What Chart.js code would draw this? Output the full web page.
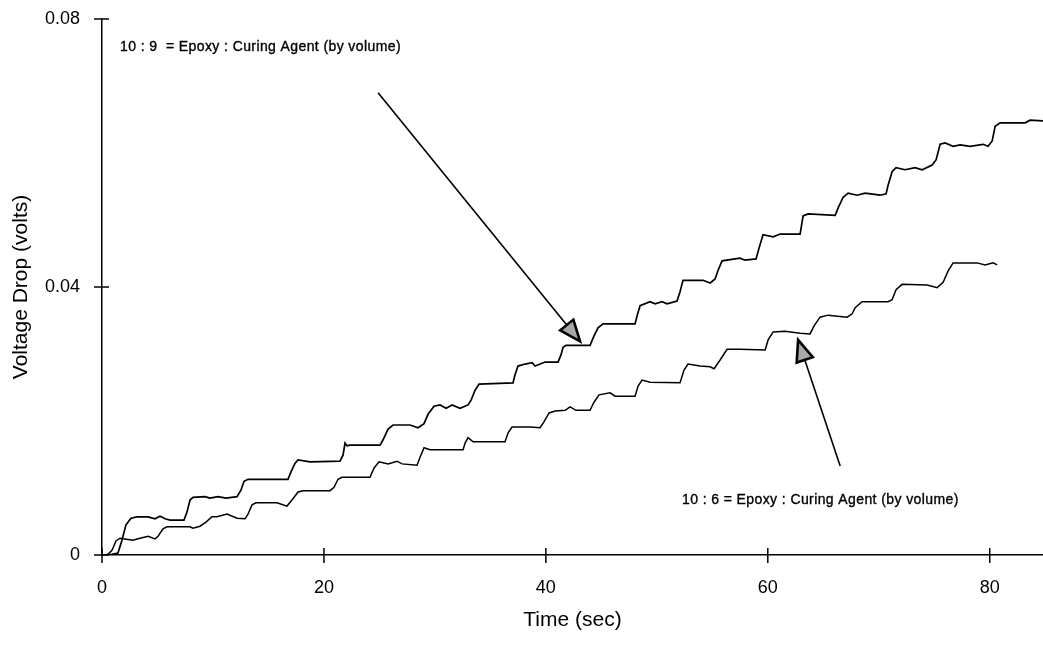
<!DOCTYPE html>
<html>
<head>
<meta charset="utf-8">
<script src="https://cdn.jsdelivr.net/npm/chart.js@4.4.1/dist/chart.umd.min.js"></script>
<style>
  html, body { margin: 0; padding: 0; background: #fff; }
  #wrap { width: 1043px; height: 650px; position: relative; }
</style>
</head>
<body>
<div id="wrap"><canvas id="c"></canvas></div>
<script>
// ---- Data ----
const timeUpper = [0,0.54,1.44,1.80,2.16,2.61,3.15,4.15,4.78,5.23,5.68,6.13,7.39,7.66,7.93,8.20,9.28,9.73,10.46,11.18,12.17,12.53,12.80,13.16,16.76,17.03,17.40,17.67,18.75,21.45,21.72,21.90,22.08,22.35,25.06,25.33,25.78,26.23,27.76,28.48,29.02,29.38,29.92,30.46,31.01,31.55,32.27,32.99,33.26,33.62,33.98,37.04,37.22,37.49,38.13,38.76,39.03,39.93,41.10,41.37,41.55,41.82,43.98,44.34,44.70,45.15,48.04,48.22,48.49,49.39,49.84,50.47,50.92,51.82,52.09,52.36,54.17,54.80,55.25,55.52,55.88,57.05,57.50,57.95,58.94,59.21,59.57,60.48,61.11,62.91,63.18,63.63,66.07,66.34,66.79,67.24,68.05,68.77,70.12,70.66,70.84,71.20,71.56,72.37,73.27,73.91,74.81,75.17,75.53,75.98,76.70,77.33,78.23,79.40,79.85,80.22,80.49,80.94,83.19,83.64,84.81];
const voltUpper = [0,0,0.0003,0.0022,0.0045,0.0055,0.0057,0.0057,0.0054,0.0058,0.0054,0.0052,0.0052,0.0064,0.0082,0.0086,0.0087,0.0085,0.0087,0.0085,0.0087,0.0097,0.0110,0.0113,0.0113,0.0124,0.0137,0.0142,0.0139,0.0140,0.0149,0.0167,0.0163,0.0164,0.0164,0.0172,0.0188,0.0194,0.0194,0.0190,0.0196,0.0210,0.0222,0.0224,0.0219,0.0224,0.0219,0.0224,0.0231,0.0246,0.0255,0.0257,0.0269,0.0282,0.0285,0.0287,0.0282,0.0288,0.0288,0.0299,0.0310,0.0313,0.0313,0.0327,0.0339,0.0345,0.0345,0.0357,0.0372,0.0378,0.0375,0.0378,0.0375,0.0379,0.0393,0.0410,0.0410,0.0406,0.0412,0.0425,0.0439,0.0442,0.0443,0.0440,0.0442,0.0458,0.0478,0.0475,0.0479,0.0479,0.0506,0.0509,0.0507,0.0518,0.0534,0.0540,0.0537,0.0540,0.0537,0.0539,0.0552,0.0572,0.0578,0.0575,0.0578,0.0575,0.0582,0.0590,0.0613,0.0615,0.0610,0.0612,0.0610,0.0613,0.0610,0.0618,0.0640,0.0645,0.0645,0.0649,0.0648];

const timeLower = [0.18,0.54,0.90,1.26,1.62,2.79,3.42,4.15,4.78,5.05,5.50,5.86,7.93,8.20,8.83,9.37,9.91,10.36,11.27,12.17,12.89,13.16,13.52,13.88,15.77,16.67,17.12,17.67,18.12,20.55,20.91,21.27,21.63,24.15,24.52,24.97,25.78,26.59,27.04,28.39,28.66,29.02,29.56,32.54,32.72,32.99,33.44,36.32,36.59,36.95,38.58,39.48,39.84,40.29,40.83,41.73,42.18,42.72,43.98,44.34,44.79,45.79,46.24,48.04,48.31,48.67,49.39,52.09,52.45,52.81,53.90,54.80,55.16,55.70,56.33,57.50,59.76,60.03,60.48,61.56,62.91,63.81,64.17,64.71,65.43,67.15,67.60,67.87,68.50,70.84,71.20,71.56,72.10,74.36,75.26,75.80,76.25,76.70,78.86,79.58,80.31,80.67];
const voltLower = [0,0.0001,0.0007,0.0021,0.0025,0.0022,0.0025,0.0028,0.0024,0.0028,0.0039,0.0042,0.0042,0.0040,0.0043,0.0049,0.0057,0.0057,0.0061,0.0055,0.0054,0.0061,0.0075,0.0078,0.0078,0.0073,0.0082,0.0094,0.0096,0.0096,0.0101,0.0113,0.0116,0.0116,0.0130,0.0139,0.0136,0.0140,0.0136,0.0134,0.0146,0.0160,0.0157,0.0157,0.0167,0.0175,0.0169,0.0169,0.0182,0.0191,0.0191,0.0190,0.0199,0.0212,0.0215,0.0216,0.0221,0.0216,0.0216,0.0228,0.0239,0.0242,0.0237,0.0237,0.0252,0.0261,0.0258,0.0257,0.0276,0.0285,0.0282,0.0281,0.0278,0.0291,0.0307,0.0307,0.0306,0.0321,0.0333,0.0334,0.0331,0.0330,0.0342,0.0355,0.0358,0.0355,0.0360,0.0369,0.0378,0.0378,0.0381,0.0396,0.0404,0.0403,0.0399,0.0407,0.0424,0.0436,0.0436,0.0433,0.0436,0.0433];

const xTickValues = [0, 20, 40, 60, 80];
const xTickLabels = ['0', '20', '40', '60', '80'];
const yTickValues = [0, 0.04, 0.08];
const yTickLabels = ['0', '0.04', '0.08'];

const labelUpper = '10 : 9  = Epoxy : Curing Agent (by volume)';
const labelLower = '10 : 6 = Epoxy : Curing Agent (by volume)';

function pairs(xs, ys) {
  const n = Math.min(xs.length, ys.length);
  const out = [];
  for (let i = 0; i < n; i++) out.push({ x: xs[i], y: ys[i] });
  return out;
}

const FONT = "'Liberation Sans', Arial, Helvetica, sans-serif";
Chart.defaults.font.family = FONT;
Chart.defaults.color = '#000';

// Annotation anchors (data coordinates)
const notes = {
  arrowUpper: { from: [24.88, 0.0690], to: [43.08, 0.0319] },
  arrowLower: { from: [66.52, 0.0133], to: [62.73, 0.0321] },
  textUpper: { at: [1.62, 0.0758] },
  textLower: { at: [52.27, 0.0082] }
};

const decorPlugin = {
  id: 'decor',
  afterDatasetsDraw(chart) {
    const { ctx, scales: { x, y } } = chart;
    ctx.save();
    ctx.strokeStyle = '#000';
    ctx.lineWidth = 1.5;
    const ax = x.getPixelForValue(0);
    const ay = y.getPixelForValue(0);
    yTickValues.forEach(v => {
      const py = y.getPixelForValue(v);
      ctx.beginPath(); ctx.moveTo(ax - 8, py); ctx.lineTo(ax + 7, py); ctx.stroke();
    });
    xTickValues.forEach(v => {
      const px = x.getPixelForValue(v);
      ctx.beginPath(); ctx.moveTo(px, ay - 7); ctx.lineTo(px, ay + 8); ctx.stroke();
    });

    function arrow(a) {
      const x0 = x.getPixelForValue(a.from[0]), y0 = y.getPixelForValue(a.from[1]);
      const x1 = x.getPixelForValue(a.to[0]), y1 = y.getPixelForValue(a.to[1]);
      const dx = x1 - x0, dy = y1 - y0, L = Math.hypot(dx, dy);
      const ux = dx / L, uy = dy / L;
      const hl = 21, hw = 8.5;
      const bx = x1 - ux * hl, by = y1 - uy * hl;
      ctx.lineWidth = 1.6;
      ctx.beginPath(); ctx.moveTo(x0, y0); ctx.lineTo(bx, by); ctx.stroke();
      ctx.beginPath();
      ctx.moveTo(x1, y1);
      ctx.lineTo(bx - uy * hw, by + ux * hw);
      ctx.lineTo(bx + uy * hw, by - ux * hw);
      ctx.closePath();
      ctx.fillStyle = '#a8a8a8';
      ctx.fill();
      ctx.lineWidth = 2.6;
      ctx.lineJoin = 'miter';
      ctx.stroke();
    }
    arrow(notes.arrowUpper);
    arrow(notes.arrowLower);

    ctx.fillStyle = '#000';
    ctx.strokeStyle = '#000';
    ctx.lineWidth = 0.35;
    ctx.font = '14px ' + FONT;
    try { ctx.letterSpacing = '0.4px'; } catch (e) {}
    ctx.textBaseline = 'middle';
    ctx.textAlign = 'left';
    [[labelUpper, notes.textUpper], [labelLower, notes.textLower]].forEach(([t, n]) => {
      const px = x.getPixelForValue(n.at[0]), py = y.getPixelForValue(n.at[1]);
      ctx.fillText(t, px, py);
      ctx.strokeText(t, px, py);
    });
    ctx.restore();
  }
};

new Chart(document.getElementById('c'), {
  type: 'line',
  data: {
    datasets: [
      { label: labelUpper, data: pairs(timeUpper, voltUpper), borderColor: '#000', borderWidth: 1.7, pointRadius: 0, tension: 0, fill: false },
      { label: labelLower, data: pairs(timeLower, voltLower), borderColor: '#000', borderWidth: 1.5, pointRadius: 0, tension: 0, fill: false }
    ]
  },
  options: {
    responsive: true,
    maintainAspectRatio: false,
    animation: false,
    events: [],
    layout: { padding: { top: 19, right: 0, left: 0, bottom: 0 } },
    plugins: { legend: { display: false }, tooltip: { enabled: false } },
    scales: {
      x: {
        type: 'linear', min: 0, max: 84.8,
        afterBuildTicks: s => { s.ticks = xTickValues.map(v => ({ value: v })); },
        afterFit: s => { s.height = 95; s.paddingLeft = 0; s.paddingRight = 0; },
        grid: { display: false, drawTicks: false },
        border: { display: true, color: '#000', width: 1.5 },
        ticks: {
          padding: 22, font: { size: 18 }, color: '#000', maxRotation: 0,
          callback: (v) => { const i = xTickValues.indexOf(v); return i >= 0 ? xTickLabels[i] : ''; }
        },
        title: { display: true, text: 'Time (sec)', font: { size: 21 }, color: '#000', padding: { top: 0, bottom: 17 } }
      },
      y: {
        type: 'linear', min: 0, max: 0.08,
        afterBuildTicks: s => { s.ticks = yTickValues.map(v => ({ value: v })); },
        afterFit: s => { s.width = 102; s.paddingTop = 0; s.paddingBottom = 0; },
        grid: { display: false, drawTicks: false },
        border: { display: true, color: '#000', width: 1.5 },
        ticks: {
          padding: 22, font: { size: 18 }, color: '#000',
          callback: (v) => { const i = yTickValues.findIndex(t => Math.abs(t - v) < 1e-9); return i >= 0 ? yTickLabels[i] : ''; }
        },
        title: { display: true, text: 'Voltage Drop (volts)', font: { size: 21 }, color: '#000', padding: { top: 9, bottom: 0 } }
      }
    }
  },
  plugins: [decorPlugin]
});
</script>
</body>
</html>
